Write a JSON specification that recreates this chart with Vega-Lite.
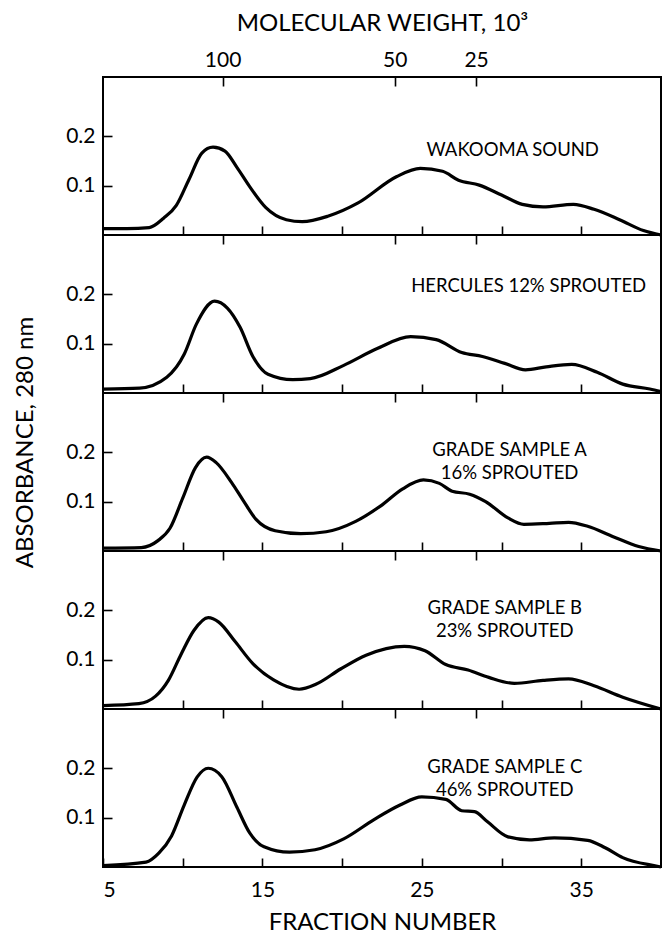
{
  "$schema": "https://vega.github.io/schema/vega-lite/v6.json",
  "padding": {"left": 12, "top": 10, "right": 3, "bottom": 3},
  "spacing": 0,
  "bounds": "flush",
  "datasets": {
    "wakooma": [
      {"fraction": 5, "absorbance": 0.013}, {"fraction": 6.5, "absorbance": 0.013}, {"fraction": 7.9, "absorbance": 0.015},
      {"fraction": 8.8, "absorbance": 0.034}, {"fraction": 9.6, "absorbance": 0.06}, {"fraction": 10.4, "absorbance": 0.113},
      {"fraction": 11.2, "absorbance": 0.166}, {"fraction": 11.9, "absorbance": 0.178}, {"fraction": 12.65, "absorbance": 0.17},
      {"fraction": 13.4, "absorbance": 0.137}, {"fraction": 14.2, "absorbance": 0.098}, {"fraction": 15.2, "absorbance": 0.056},
      {"fraction": 16.5, "absorbance": 0.031}, {"fraction": 17.5, "absorbance": 0.027}, {"fraction": 19.1, "absorbance": 0.038},
      {"fraction": 21, "absorbance": 0.065}, {"fraction": 23.4, "absorbance": 0.118}, {"fraction": 24.9, "absorbance": 0.135},
      {"fraction": 26.3, "absorbance": 0.129}, {"fraction": 27.3, "absorbance": 0.111}, {"fraction": 28.6, "absorbance": 0.101},
      {"fraction": 30, "absorbance": 0.081}, {"fraction": 31.3, "absorbance": 0.062}, {"fraction": 32.6, "absorbance": 0.057},
      {"fraction": 34.5, "absorbance": 0.062}, {"fraction": 35.8, "absorbance": 0.052}, {"fraction": 37.4, "absorbance": 0.031},
      {"fraction": 38.9, "absorbance": 0.009}, {"fraction": 40, "absorbance": 0}
    ],
    "hercules": [
      {"fraction": 5, "absorbance": 0.008}, {"fraction": 7.3, "absorbance": 0.01}, {"fraction": 9.0, "absorbance": 0.032},
      {"fraction": 10.1, "absorbance": 0.079}, {"fraction": 10.85, "absorbance": 0.139}, {"fraction": 12.0, "absorbance": 0.186},
      {"fraction": 12.8, "absorbance": 0.172}, {"fraction": 13.6, "absorbance": 0.133}, {"fraction": 14.4, "absorbance": 0.074},
      {"fraction": 15.35, "absorbance": 0.038}, {"fraction": 16.9, "absorbance": 0.027}, {"fraction": 18.0, "absorbance": 0.029},
      {"fraction": 20.1, "absorbance": 0.056}, {"fraction": 22.2, "absorbance": 0.09}, {"fraction": 24.3, "absorbance": 0.114},
      {"fraction": 25.9, "absorbance": 0.108}, {"fraction": 27.5, "absorbance": 0.082}, {"fraction": 28.8, "absorbance": 0.074},
      {"fraction": 30.2, "absorbance": 0.06}, {"fraction": 31.5, "absorbance": 0.047}, {"fraction": 32.8, "absorbance": 0.053},
      {"fraction": 34.4, "absorbance": 0.058}, {"fraction": 36.0, "absorbance": 0.042}, {"fraction": 37.6, "absorbance": 0.018},
      {"fraction": 39.3, "absorbance": 0.008}, {"fraction": 40, "absorbance": 0.003}
    ],
    "sampleA": [
      {"fraction": 5, "absorbance": 0.006}, {"fraction": 7.4, "absorbance": 0.007}, {"fraction": 8.45, "absorbance": 0.021},
      {"fraction": 9.2, "absorbance": 0.046}, {"fraction": 10.0, "absorbance": 0.107}, {"fraction": 10.8, "absorbance": 0.169},
      {"fraction": 11.5, "absorbance": 0.19}, {"fraction": 12.1, "absorbance": 0.179}, {"fraction": 13.06, "absorbance": 0.139},
      {"fraction": 13.8, "absorbance": 0.102}, {"fraction": 14.6, "absorbance": 0.064}, {"fraction": 15.8, "absorbance": 0.041},
      {"fraction": 17.4, "absorbance": 0.035}, {"fraction": 19.0, "absorbance": 0.039}, {"fraction": 20.85, "absorbance": 0.06},
      {"fraction": 22.4, "absorbance": 0.091}, {"fraction": 23.8, "absorbance": 0.126}, {"fraction": 25.1, "absorbance": 0.144},
      {"fraction": 26.1, "absorbance": 0.137}, {"fraction": 26.9, "absorbance": 0.121}, {"fraction": 28.0, "absorbance": 0.115},
      {"fraction": 29.0, "absorbance": 0.1}, {"fraction": 30.4, "absorbance": 0.067}, {"fraction": 31.4, "absorbance": 0.054},
      {"fraction": 33.0, "absorbance": 0.056}, {"fraction": 34.2, "absorbance": 0.058}, {"fraction": 35.4, "absorbance": 0.05},
      {"fraction": 37.0, "absorbance": 0.029}, {"fraction": 38.6, "absorbance": 0.009}, {"fraction": 40, "absorbance": 0}
    ],
    "sampleB": [
      {"fraction": 5, "absorbance": 0.007}, {"fraction": 7.25, "absorbance": 0.011}, {"fraction": 8.3, "absorbance": 0.026},
      {"fraction": 9.1, "absorbance": 0.058}, {"fraction": 9.9, "absorbance": 0.111}, {"fraction": 10.7, "absorbance": 0.159},
      {"fraction": 11.6, "absorbance": 0.185}, {"fraction": 12.26, "absorbance": 0.176}, {"fraction": 13.3, "absorbance": 0.136},
      {"fraction": 14.4, "absorbance": 0.092}, {"fraction": 15.7, "absorbance": 0.059}, {"fraction": 17.3, "absorbance": 0.04},
      {"fraction": 18.35, "absorbance": 0.05}, {"fraction": 19.9, "absorbance": 0.081}, {"fraction": 21.5, "absorbance": 0.109},
      {"fraction": 23.9, "absorbance": 0.127}, {"fraction": 25.2, "absorbance": 0.118}, {"fraction": 26.5, "absorbance": 0.09},
      {"fraction": 27.9, "absorbance": 0.079}, {"fraction": 29.2, "absorbance": 0.064}, {"fraction": 30.8, "absorbance": 0.052},
      {"fraction": 32.6, "absorbance": 0.058}, {"fraction": 34.2, "absorbance": 0.061}, {"fraction": 35.8, "absorbance": 0.047},
      {"fraction": 37.6, "absorbance": 0.024}, {"fraction": 40, "absorbance": 0}
    ],
    "sampleC": [
      {"fraction": 5, "absorbance": 0.003}, {"fraction": 7.7, "absorbance": 0.01}, {"fraction": 8.5, "absorbance": 0.028},
      {"fraction": 9.3, "absorbance": 0.063}, {"fraction": 10.1, "absorbance": 0.126}, {"fraction": 10.9, "absorbance": 0.182},
      {"fraction": 11.6, "absorbance": 0.2}, {"fraction": 12.45, "absorbance": 0.183}, {"fraction": 13.4, "absorbance": 0.121},
      {"fraction": 14.2, "absorbance": 0.069}, {"fraction": 15.1, "absorbance": 0.041}, {"fraction": 16.7, "absorbance": 0.03},
      {"fraction": 18.3, "absorbance": 0.035}, {"fraction": 20.1, "absorbance": 0.057}, {"fraction": 22.0, "absorbance": 0.096},
      {"fraction": 23.6, "absorbance": 0.125}, {"fraction": 25.0, "absorbance": 0.142}, {"fraction": 26.5, "absorbance": 0.137},
      {"fraction": 27.5, "absorbance": 0.114}, {"fraction": 28.3, "absorbance": 0.112}, {"fraction": 29.1, "absorbance": 0.092},
      {"fraction": 30.4, "absorbance": 0.061}, {"fraction": 31.75, "absorbance": 0.055}, {"fraction": 33.3, "absorbance": 0.059},
      {"fraction": 35.4, "absorbance": 0.054}, {"fraction": 36.5, "absorbance": 0.039}, {"fraction": 37.6, "absorbance": 0.019},
      {"fraction": 39.7, "absorbance": 0.002}, {"fraction": 40, "absorbance": 0}
    ]
  },
  "vconcat": [
    {
      "width": 558, "height": 158,
      "layer": [
        {
          "data": {"name": "wakooma"},
          "mark": {"type": "line", "color": "black", "strokeWidth": 3.2, "interpolate": "monotone"},
          "encoding": {
            "x": {"field": "fraction", "type": "quantitative", "scale": {"domain": [5, 40], "nice": false, "zero": false},
                  "axis": {"orient": "bottom", "values": [10, 15, 20, 25, 30, 35], "labels": false, "title": null}},
            "y": {"field": "absorbance", "type": "quantitative", "scale": {"domain": [0, 0.32], "nice": false},
                  "axis": {"values": [0.1, 0.2], "format": ".1f", "title": null}}
          }
        },
        {
          "data": {"values": [{}]},
          "mark": {"type": "text", "text": "WAKOOMA SOUND", "fontSize": 18.5, "align": "center", "baseline": "middle", "color": "black"},
          "encoding": {
            "x": {"datum": 30.7, "type": "quantitative",
                  "axis": {"orient": "top", "values": [12.5, 23.3, 28.4], "labelExpr": "datum.value < 15 ? '100' : datum.value < 25 ? '50' : '25'", "labelPadding": 7, "title": "MOLECULAR WEIGHT, 10³", "titlePadding": 14}},
            "y": {"datum": 0.172, "type": "quantitative"}
          }
        }
      ],
      "resolve": {"axis": {"x": "independent"}}
    },
    {
      "width": 558, "height": 158,
      "layer": [
        {
          "data": {"name": "hercules"},
          "mark": {"type": "line", "color": "black", "strokeWidth": 3.2, "interpolate": "monotone"},
          "encoding": {
            "x": {"field": "fraction", "type": "quantitative", "scale": {"domain": [5, 40], "nice": false, "zero": false},
                  "axis": {"orient": "bottom", "values": [10, 15, 20, 25, 30, 35], "labels": false, "title": null}},
            "y": {"field": "absorbance", "type": "quantitative", "scale": {"domain": [0, 0.32], "nice": false},
                  "axis": {"values": [0.1, 0.2], "format": ".1f", "title": null}}
          }
        },
        {
          "data": {"values": [{}]},
          "mark": {"type": "text", "text": "HERCULES 12% SPROUTED", "fontSize": 18.5, "align": "center", "baseline": "middle", "color": "black"},
          "encoding": {
            "x": {"datum": 31.7, "type": "quantitative",
                  "axis": {"orient": "top", "values": [12.5, 23.3, 28.4], "labels": false, "title": null}},
            "y": {"datum": 0.216, "type": "quantitative"}
          }
        }
      ],
      "resolve": {"axis": {"x": "independent"}}
    },
    {
      "width": 558, "height": 158,
      "layer": [
        {
          "data": {"name": "sampleA"},
          "mark": {"type": "line", "color": "black", "strokeWidth": 3.2, "interpolate": "monotone"},
          "encoding": {
            "x": {"field": "fraction", "type": "quantitative", "scale": {"domain": [5, 40], "nice": false, "zero": false},
                  "axis": {"orient": "bottom", "values": [10, 15, 20, 25, 30, 35], "labels": false, "title": null}},
            "y": {"field": "absorbance", "type": "quantitative", "scale": {"domain": [0, 0.32], "nice": false},
                  "axis": {"values": [0.1, 0.2], "format": ".1f", "title": "ABSORBANCE, 280 nm", "titleY": 49, "titlePadding": 28}}
          }
        },
        {
          "data": {"values": [{}]},
          "mark": {"type": "text", "text": ["GRADE SAMPLE A", "16% SPROUTED"], "lineHeight": 23, "fontSize": 18.5, "align": "center", "baseline": "middle", "color": "black"},
          "encoding": {
            "x": {"datum": 30.5, "type": "quantitative",
                  "axis": {"orient": "top", "values": [12.5, 23.3, 28.4], "labels": false, "title": null}},
            "y": {"datum": 0.205, "type": "quantitative"}
          }
        }
      ],
      "resolve": {"axis": {"x": "independent"}}
    },
    {
      "width": 558, "height": 158,
      "layer": [
        {
          "data": {"name": "sampleB"},
          "mark": {"type": "line", "color": "black", "strokeWidth": 3.2, "interpolate": "monotone"},
          "encoding": {
            "x": {"field": "fraction", "type": "quantitative", "scale": {"domain": [5, 40], "nice": false, "zero": false},
                  "axis": {"orient": "bottom", "values": [10, 15, 20, 25, 30, 35], "labels": false, "title": null}},
            "y": {"field": "absorbance", "type": "quantitative", "scale": {"domain": [0, 0.32], "nice": false},
                  "axis": {"values": [0.1, 0.2], "format": ".1f", "title": null}}
          }
        },
        {
          "data": {"values": [{}]},
          "mark": {"type": "text", "text": ["GRADE SAMPLE B", "23% SPROUTED"], "lineHeight": 23, "fontSize": 18.5, "align": "center", "baseline": "middle", "color": "black"},
          "encoding": {
            "x": {"datum": 30.2, "type": "quantitative",
                  "axis": {"orient": "top", "values": [12.5, 23.3, 28.4], "labels": false, "title": null}},
            "y": {"datum": 0.205, "type": "quantitative"}
          }
        }
      ],
      "resolve": {"axis": {"x": "independent"}}
    },
    {
      "width": 558, "height": 158,
      "layer": [
        {
          "data": {"name": "sampleC"},
          "mark": {"type": "line", "color": "black", "strokeWidth": 3.2, "interpolate": "monotone"},
          "encoding": {
            "x": {"field": "fraction", "type": "quantitative", "scale": {"domain": [5, 40], "nice": false, "zero": false},
                  "axis": {"orient": "bottom", "values": [5, 10, 15, 20, 25, 30, 35], "labelExpr": "datum.value % 10 == 5 ? datum.label : ''", "labelPadding": 12, "title": "FRACTION NUMBER", "titlePadding": 10}},
            "y": {"field": "absorbance", "type": "quantitative", "scale": {"domain": [0, 0.32], "nice": false},
                  "axis": {"values": [0.1, 0.2], "format": ".1f", "title": null}}
          }
        },
        {
          "data": {"values": [{}]},
          "mark": {"type": "text", "text": ["GRADE SAMPLE C", "46% SPROUTED"], "lineHeight": 23, "fontSize": 18.5, "align": "center", "baseline": "middle", "color": "black"},
          "encoding": {
            "x": {"datum": 30.2, "type": "quantitative",
                  "axis": {"orient": "top", "values": [12.5, 23.3, 28.4], "labels": false, "title": null}},
            "y": {"datum": 0.203, "type": "quantitative"}
          }
        }
      ],
      "resolve": {"axis": {"x": "independent"}}
    }
  ],
  "config": {
    "font": "Lato",
    "background": "white",
    "view": {"stroke": "black", "strokeWidth": 2},
    "axis": {
      "domain": false, "grid": false, "ticks": true, "tickColor": "black", "tickWidth": 1.6, "tickSize": 9, "offset": -9,
      "labelPadding": 8,
      "labelColor": "black", "labelFontSize": 21, "labelFont": "Lato",
      "titleColor": "black", "titleFont": "Lato", "titleFontWeight": "normal", "titleFontSize": 24
    }
  }
}
